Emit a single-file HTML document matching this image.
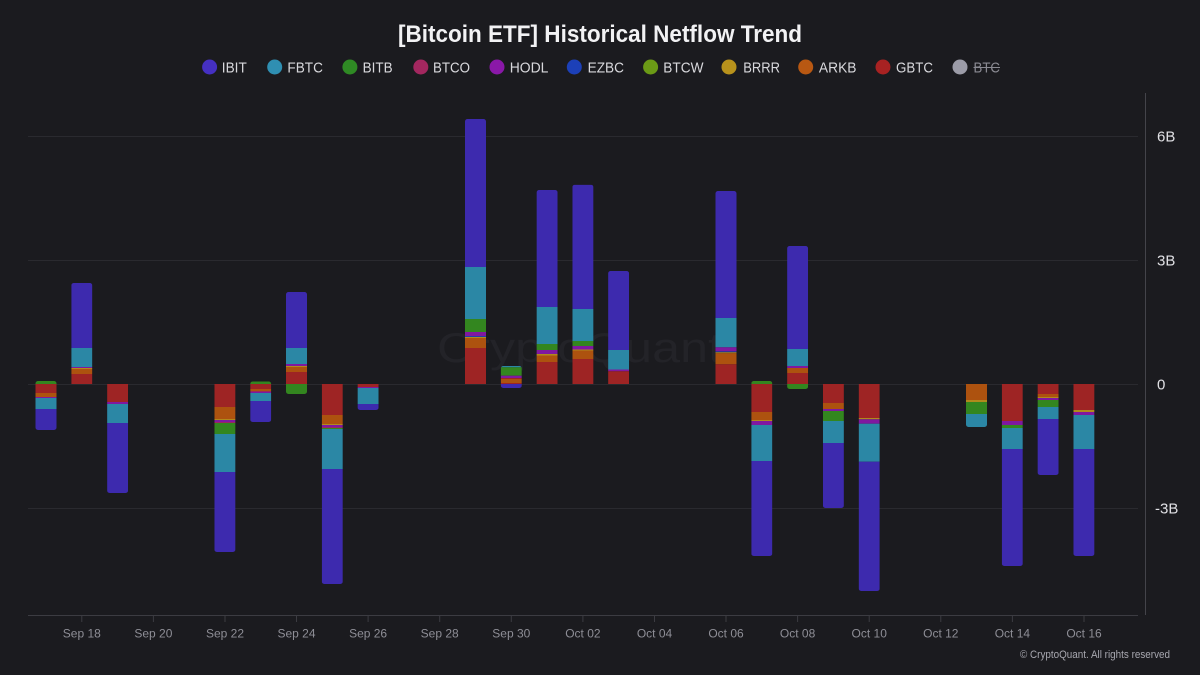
<!DOCTYPE html>
<html><head><meta charset="utf-8"><style>
html,body{margin:0;padding:0;background:#1b1b1f;}
svg{display:block;}
text{font-family:"Liberation Sans",sans-serif;}
</style></head><body>
<svg width="1200" height="675" viewBox="0 0 1200 675" xmlns="http://www.w3.org/2000/svg">
<rect width="1200" height="675" fill="#1b1b1f"/>
<!-- title -->
<text x="600" y="42" text-anchor="middle" font-size="24" font-weight="bold" fill="#f2f2f4" textLength="404" lengthAdjust="spacingAndGlyphs">[Bitcoin ETF] Historical Netflow Trend</text>
<!-- legend -->
<g font-size="15" fill="#d8d8dc">
<circle cx="209.6" cy="67" r="7.5" fill="#4530c2"/><text x="221.8" y="72.5" textLength="25" lengthAdjust="spacingAndGlyphs">IBIT</text>
<circle cx="274.7" cy="67" r="7.5" fill="#2f8fb2"/><text x="287.4" y="72.5" textLength="35.5" lengthAdjust="spacingAndGlyphs">FBTC</text>
<circle cx="349.9" cy="67" r="7.5" fill="#2f8a24"/><text x="362.6" y="72.5" textLength="30" lengthAdjust="spacingAndGlyphs">BITB</text>
<circle cx="420.8" cy="67" r="7.5" fill="#a3275f"/><text x="433" y="72.5" textLength="37" lengthAdjust="spacingAndGlyphs">BTCO</text>
<circle cx="497" cy="67" r="7.5" fill="#8a18a8"/><text x="509.7" y="72.5" textLength="38.7" lengthAdjust="spacingAndGlyphs">HODL</text>
<circle cx="574.3" cy="67" r="7.5" fill="#1c40b8"/><text x="587.6" y="72.5" textLength="36.4" lengthAdjust="spacingAndGlyphs">EZBC</text>
<circle cx="650.6" cy="67" r="7.5" fill="#6b9a16"/><text x="663.3" y="72.5" textLength="40.2" lengthAdjust="spacingAndGlyphs">BTCW</text>
<circle cx="729" cy="67" r="7.5" fill="#b8921c"/><text x="743.2" y="72.5" textLength="36.8" lengthAdjust="spacingAndGlyphs">BRRR</text>
<circle cx="805.7" cy="67" r="7.5" fill="#b85812"/><text x="818.9" y="72.5" textLength="37.6" lengthAdjust="spacingAndGlyphs">ARKB</text>
<circle cx="883" cy="67" r="7.5" fill="#a82222"/><text x="896" y="72.5" textLength="37" lengthAdjust="spacingAndGlyphs">GBTC</text>
<circle cx="960" cy="67" r="7.5" fill="#9c9ca8"/><text x="973.5" y="72.5" textLength="26.5" lengthAdjust="spacingAndGlyphs" fill="#8a8a92">BTC</text>
<line x1="973.5" y1="67.5" x2="1000" y2="67.5" stroke="#8a8a92" stroke-width="1"/>
</g>
<!-- watermark -->
<text x="437" y="362" font-size="42" fill="#232328" textLength="285" lengthAdjust="spacingAndGlyphs">CryptoQuant</text>
<!-- gridlines -->
<g stroke="#2a2a2f" stroke-width="1">
<line x1="28" y1="136.5" x2="1138" y2="136.5"/>
<line x1="28" y1="260.5" x2="1138" y2="260.5"/>
<line x1="28" y1="384.5" x2="1138" y2="384.5"/>
<line x1="28" y1="508.5" x2="1138" y2="508.5"/>
</g>
<!-- axes -->
<line x1="28" y1="615.5" x2="1138" y2="615.5" stroke="#3c3c42" stroke-width="1"/>
<line x1="1145.5" y1="93" x2="1145.5" y2="615" stroke="#44444a" stroke-width="1"/>
<g stroke="#3c3c42" stroke-width="1">
<line x1="81.8" y1="615" x2="81.8" y2="622"/><line x1="153.4" y1="615" x2="153.4" y2="622"/>
<line x1="225" y1="615" x2="225" y2="622"/><line x1="296.5" y1="615" x2="296.5" y2="622"/>
<line x1="368.1" y1="615" x2="368.1" y2="622"/><line x1="439.7" y1="615" x2="439.7" y2="622"/>
<line x1="511.3" y1="615" x2="511.3" y2="622"/><line x1="582.9" y1="615" x2="582.9" y2="622"/>
<line x1="654.5" y1="615" x2="654.5" y2="622"/><line x1="726" y1="615" x2="726" y2="622"/>
<line x1="797.6" y1="615" x2="797.6" y2="622"/><line x1="869.2" y1="615" x2="869.2" y2="622"/>
<line x1="940.8" y1="615" x2="940.8" y2="622"/><line x1="1012.4" y1="615" x2="1012.4" y2="622"/>
<line x1="1084" y1="615" x2="1084" y2="622"/>
</g>
<g font-size="12" fill="#8e8e96" text-anchor="middle">
<text x="81.8" y="637.5">Sep 18</text><text x="153.4" y="637.5">Sep 20</text>
<text x="225" y="637.5">Sep 22</text><text x="296.5" y="637.5">Sep 24</text>
<text x="368.1" y="637.5">Sep 26</text><text x="439.7" y="637.5">Sep 28</text>
<text x="511.3" y="637.5">Sep 30</text><text x="582.9" y="637.5">Oct 02</text>
<text x="654.5" y="637.5">Oct 04</text><text x="726" y="637.5">Oct 06</text>
<text x="797.6" y="637.5">Oct 08</text><text x="869.2" y="637.5">Oct 10</text>
<text x="940.8" y="637.5">Oct 12</text><text x="1012.4" y="637.5">Oct 14</text>
<text x="1084" y="637.5">Oct 16</text>
</g>
<g font-size="15" fill="#e0e0e4">
<text x="1157" y="141.5">6B</text>
<text x="1157" y="265.5">3B</text>
<text x="1157" y="389.5">0</text>
<text x="1155" y="513.5">-3B</text>
</g>
<text x="1170" y="658" font-size="11" fill="#a8a8b0" text-anchor="end" textLength="150" lengthAdjust="spacingAndGlyphs">© CryptoQuant. All rights reserved</text>

<defs>
<clipPath id="c0"><rect x="35.5" y="381" width="21" height="49" rx="2.5"/></clipPath>
<clipPath id="c1"><rect x="71.3" y="283" width="21" height="107" rx="2.5"/></clipPath>
<clipPath id="c2"><rect x="107.1" y="378" width="21" height="115" rx="2.5"/></clipPath>
<clipPath id="c3"><rect x="214.4" y="378" width="21" height="174" rx="2.5"/></clipPath>
<clipPath id="c4"><rect x="250.2" y="381.5" width="21" height="40.5" rx="2.5"/></clipPath>
<clipPath id="c5"><rect x="286" y="292" width="21" height="102" rx="2.5"/></clipPath>
<clipPath id="c6"><rect x="321.8" y="378" width="21" height="206" rx="2.5"/></clipPath>
<clipPath id="c7"><rect x="357.6" y="378" width="21" height="32" rx="2.5"/></clipPath>
<clipPath id="c8"><rect x="465" y="119" width="21" height="271" rx="2.5"/></clipPath>
<clipPath id="c9"><rect x="500.8" y="366" width="21" height="22" rx="2.5"/></clipPath>
<clipPath id="c10"><rect x="536.6" y="190" width="21" height="200" rx="2.5"/></clipPath>
<clipPath id="c11"><rect x="572.4" y="184.7" width="21" height="205.3" rx="2.5"/></clipPath>
<clipPath id="c12"><rect x="608.1" y="271" width="21" height="119" rx="2.5"/></clipPath>
<clipPath id="c13"><rect x="715.5" y="191" width="21" height="199" rx="2.5"/></clipPath>
<clipPath id="c14"><rect x="751.3" y="381" width="21" height="175" rx="2.5"/></clipPath>
<clipPath id="c15"><rect x="787.1" y="246" width="21" height="143" rx="2.5"/></clipPath>
<clipPath id="c16"><rect x="822.9" y="378" width="21" height="130" rx="2.5"/></clipPath>
<clipPath id="c17"><rect x="858.7" y="378" width="21" height="213" rx="2.5"/></clipPath>
<clipPath id="c18"><rect x="966" y="378" width="21" height="49" rx="2.5"/></clipPath>
<clipPath id="c19"><rect x="1001.8" y="378" width="21" height="188" rx="2.5"/></clipPath>
<clipPath id="c20"><rect x="1037.6" y="378" width="21" height="97" rx="2.5"/></clipPath>
<clipPath id="c21"><rect x="1073.4" y="378" width="21" height="178" rx="2.5"/></clipPath>
</defs>

<!-- Bars. Colors: B IBIT #3d2aae, T FBTC #2b87a5, G BITB #33861f, P BTCO #9a2760, H HODL #8018a0, E EZBC #1f3cae, W BTCW #6a9418, Y BRRR #b08a1c, O ARKB #ad520f, R GBTC #9e2424 -->
<g clip-path="url(#c0)">
<rect x="35.5" y="381" width="21" height="3" fill="#33861f"/>
<rect x="35.5" y="384" width="21" height="9" fill="#9e2424"/>
<rect x="35.5" y="393" width="21" height="4" fill="#ad520f"/>
<rect x="35.5" y="397" width="21" height="1" fill="#8018a0"/>
<rect x="35.5" y="398" width="21" height="11" fill="#2b87a5"/>
<rect x="35.5" y="409" width="21" height="21" fill="#3d2aae"/>
</g>
<g clip-path="url(#c1)">
<rect x="71.3" y="283" width="21" height="65" fill="#3d2aae"/>
<rect x="71.3" y="348" width="21" height="19" fill="#2b87a5"/>
<rect x="71.3" y="367" width="21" height="1" fill="#8018a0"/>
<rect x="71.3" y="368" width="21" height="1" fill="#b08a1c"/>
<rect x="71.3" y="369" width="21" height="5" fill="#ad520f"/>
<rect x="71.3" y="374" width="21" height="10" fill="#9e2424"/>
</g>
<g clip-path="url(#c2)">
<rect x="107.1" y="384" width="21" height="18" fill="#9e2424"/>
<rect x="107.1" y="402" width="21" height="2" fill="#8018a0"/>
<rect x="107.1" y="404" width="21" height="19" fill="#2b87a5"/>
<rect x="107.1" y="423" width="21" height="70" fill="#3d2aae"/>
</g>
<g clip-path="url(#c3)">
<rect x="214.4" y="384" width="21" height="23" fill="#9e2424"/>
<rect x="214.4" y="407" width="21" height="12" fill="#ad520f"/>
<rect x="214.4" y="419" width="21" height="1" fill="#b08a1c"/>
<rect x="214.4" y="420" width="21" height="2" fill="#8018a0"/>
<rect x="214.4" y="422" width="21" height="1" fill="#9a2760"/>
<rect x="214.4" y="423" width="21" height="11" fill="#33861f"/>
<rect x="214.4" y="434" width="21" height="38" fill="#2b87a5"/>
<rect x="214.4" y="472" width="21" height="80" fill="#3d2aae"/>
</g>
<g clip-path="url(#c4)">
<rect x="250.2" y="381.5" width="21" height="2.5" fill="#33861f"/>
<rect x="250.2" y="384" width="21" height="5" fill="#9e2424"/>
<rect x="250.2" y="389" width="21" height="2" fill="#ad520f"/>
<rect x="250.2" y="391" width="21" height="1" fill="#9a2760"/>
<rect x="250.2" y="392" width="21" height="1" fill="#8018a0"/>
<rect x="250.2" y="393" width="21" height="8" fill="#2b87a5"/>
<rect x="250.2" y="401" width="21" height="21" fill="#3d2aae"/>
</g>
<g clip-path="url(#c5)">
<rect x="286" y="292" width="21" height="56" fill="#3d2aae"/>
<rect x="286" y="348" width="21" height="16" fill="#2b87a5"/>
<rect x="286" y="364" width="21" height="2" fill="#8018a0"/>
<rect x="286" y="366" width="21" height="1" fill="#b08a1c"/>
<rect x="286" y="367" width="21" height="5" fill="#ad520f"/>
<rect x="286" y="372" width="21" height="12" fill="#9e2424"/>
<rect x="286" y="384" width="21" height="10" fill="#33861f"/>
</g>
<g clip-path="url(#c6)">
<rect x="321.8" y="384" width="21" height="31" fill="#9e2424"/>
<rect x="321.8" y="415" width="21" height="9" fill="#ad520f"/>
<rect x="321.8" y="424" width="21" height="1" fill="#b08a1c"/>
<rect x="321.8" y="425" width="21" height="2" fill="#8018a0"/>
<rect x="321.8" y="427" width="21" height="1" fill="#9a2760"/>
<rect x="321.8" y="428" width="21" height="1" fill="#33861f"/>
<rect x="321.8" y="429" width="21" height="40" fill="#2b87a5"/>
<rect x="321.8" y="469" width="21" height="115" fill="#3d2aae"/>
</g>
<g clip-path="url(#c7)">
<rect x="357.6" y="384" width="21" height="3" fill="#9e2424"/>
<rect x="357.6" y="387" width="21" height="1" fill="#8018a0"/>
<rect x="357.6" y="388" width="21" height="16" fill="#2b87a5"/>
<rect x="357.6" y="404" width="21" height="6" fill="#3d2aae"/>
</g>
<g clip-path="url(#c8)">
<rect x="465" y="119" width="21" height="148" fill="#3d2aae"/>
<rect x="465" y="267" width="21" height="52" fill="#2b87a5"/>
<rect x="465" y="319" width="21" height="13" fill="#33861f"/>
<rect x="465" y="332" width="21" height="4" fill="#8018a0"/>
<rect x="465" y="336" width="21" height="1" fill="#1f3cae"/>
<rect x="465" y="337" width="21" height="1" fill="#b08a1c"/>
<rect x="465" y="338" width="21" height="10" fill="#ad520f"/>
<rect x="465" y="348" width="21" height="36" fill="#9e2424"/>
</g>
<g clip-path="url(#c9)">
<rect x="500.8" y="366" width="21" height="1.3" fill="#2b87a5"/>
<rect x="500.8" y="367.3" width="21" height="8.4" fill="#33861f"/>
<rect x="500.8" y="375.7" width="21" height="2.3" fill="#8018a0"/>
<rect x="500.8" y="378" width="21" height="1" fill="#9e2424"/>
<rect x="500.8" y="379" width="21" height="4" fill="#ad520f"/>
<rect x="500.8" y="383" width="21" height="1" fill="#9e2424"/>
<rect x="500.8" y="384" width="21" height="4" fill="#3d2aae"/>
</g>
<g clip-path="url(#c10)">
<rect x="536.6" y="190" width="21" height="117" fill="#3d2aae"/>
<rect x="536.6" y="307" width="21" height="37" fill="#2b87a5"/>
<rect x="536.6" y="344" width="21" height="6" fill="#33861f"/>
<rect x="536.6" y="350" width="21" height="4" fill="#8018a0"/>
<rect x="536.6" y="354" width="21" height="1.5" fill="#b08a1c"/>
<rect x="536.6" y="355.5" width="21" height="6.5" fill="#ad520f"/>
<rect x="536.6" y="362" width="21" height="22" fill="#9e2424"/>
</g>
<g clip-path="url(#c11)">
<rect x="572.4" y="184.7" width="21" height="124.3" fill="#3d2aae"/>
<rect x="572.4" y="309" width="21" height="32" fill="#2b87a5"/>
<rect x="572.4" y="341" width="21" height="5" fill="#33861f"/>
<rect x="572.4" y="346" width="21" height="3.5" fill="#8018a0"/>
<rect x="572.4" y="349.5" width="21" height="1" fill="#b08a1c"/>
<rect x="572.4" y="350.5" width="21" height="8.5" fill="#ad520f"/>
<rect x="572.4" y="359" width="21" height="25" fill="#9e2424"/>
</g>
<g clip-path="url(#c12)">
<rect x="608.1" y="271" width="21" height="79" fill="#3d2aae"/>
<rect x="608.1" y="350" width="21" height="19.5" fill="#2b87a5"/>
<rect x="608.1" y="369.5" width="21" height="1.8" fill="#8018a0"/>
<rect x="608.1" y="371.3" width="21" height="12.7" fill="#9e2424"/>
</g>
<g clip-path="url(#c13)">
<rect x="715.5" y="191" width="21" height="127" fill="#3d2aae"/>
<rect x="715.5" y="318" width="21" height="29.3" fill="#2b87a5"/>
<rect x="715.5" y="347.3" width="21" height="4" fill="#8018a0"/>
<rect x="715.5" y="351.3" width="21" height="1" fill="#1f3cae"/>
<rect x="715.5" y="352.3" width="21" height="1" fill="#b08a1c"/>
<rect x="715.5" y="353.3" width="21" height="11" fill="#ad520f"/>
<rect x="715.5" y="364.3" width="21" height="19.7" fill="#9e2424"/>
</g>
<g clip-path="url(#c14)">
<rect x="751.3" y="381" width="21" height="3" fill="#33861f"/>
<rect x="751.3" y="384" width="21" height="28" fill="#9e2424"/>
<rect x="751.3" y="412" width="21" height="8" fill="#ad520f"/>
<rect x="751.3" y="420" width="21" height="1" fill="#b08a1c"/>
<rect x="751.3" y="421" width="21" height="4" fill="#8018a0"/>
<rect x="751.3" y="425" width="21" height="36" fill="#2b87a5"/>
<rect x="751.3" y="461" width="21" height="95" fill="#3d2aae"/>
</g>
<g clip-path="url(#c15)">
<rect x="787.1" y="246" width="21" height="103" fill="#3d2aae"/>
<rect x="787.1" y="349" width="21" height="17" fill="#2b87a5"/>
<rect x="787.1" y="366" width="21" height="2" fill="#8018a0"/>
<rect x="787.1" y="368" width="21" height="5" fill="#ad520f"/>
<rect x="787.1" y="373" width="21" height="11" fill="#9e2424"/>
<rect x="787.1" y="384" width="21" height="5" fill="#33861f"/>
</g>
<g clip-path="url(#c16)">
<rect x="822.9" y="384" width="21" height="19" fill="#9e2424"/>
<rect x="822.9" y="403" width="21" height="6" fill="#ad520f"/>
<rect x="822.9" y="409" width="21" height="2" fill="#8018a0"/>
<rect x="822.9" y="411" width="21" height="10" fill="#33861f"/>
<rect x="822.9" y="421" width="21" height="22" fill="#2b87a5"/>
<rect x="822.9" y="443" width="21" height="65" fill="#3d2aae"/>
</g>
<g clip-path="url(#c17)">
<rect x="858.7" y="384" width="21" height="34" fill="#9e2424"/>
<rect x="858.7" y="418" width="21" height="1.3" fill="#b08a1c"/>
<rect x="858.7" y="419.3" width="21" height="4.4" fill="#8018a0"/>
<rect x="858.7" y="423.7" width="21" height="38" fill="#2b87a5"/>
<rect x="858.7" y="461.7" width="21" height="129.3" fill="#3d2aae"/>
</g>
<g clip-path="url(#c18)">
<rect x="966" y="384" width="21" height="16" fill="#ad520f"/>
<rect x="966" y="400" width="21" height="2" fill="#b08a1c"/>
<rect x="966" y="402" width="21" height="12" fill="#33861f"/>
<rect x="966" y="414" width="21" height="13" fill="#2b87a5"/>
</g>
<g clip-path="url(#c19)">
<rect x="1001.8" y="384" width="21" height="37" fill="#9e2424"/>
<rect x="1001.8" y="421" width="21" height="4" fill="#8018a0"/>
<rect x="1001.8" y="425" width="21" height="3" fill="#33861f"/>
<rect x="1001.8" y="428" width="21" height="21" fill="#2b87a5"/>
<rect x="1001.8" y="449" width="21" height="117" fill="#3d2aae"/>
</g>
<g clip-path="url(#c20)">
<rect x="1037.6" y="384" width="21" height="10" fill="#9e2424"/>
<rect x="1037.6" y="394" width="21" height="3" fill="#ad520f"/>
<rect x="1037.6" y="397" width="21" height="1" fill="#b08a1c"/>
<rect x="1037.6" y="398" width="21" height="2" fill="#8018a0"/>
<rect x="1037.6" y="400" width="21" height="7" fill="#33861f"/>
<rect x="1037.6" y="407" width="21" height="12" fill="#2b87a5"/>
<rect x="1037.6" y="419" width="21" height="56" fill="#3d2aae"/>
</g>
<g clip-path="url(#c21)">
<rect x="1073.4" y="384" width="21" height="26" fill="#9e2424"/>
<rect x="1073.4" y="410" width="21" height="2" fill="#b08a1c"/>
<rect x="1073.4" y="412" width="21" height="3" fill="#8018a0"/>
<rect x="1073.4" y="415" width="21" height="34" fill="#2b87a5"/>
<rect x="1073.4" y="449" width="21" height="107" fill="#3d2aae"/>
</g>
</svg>
</body></html>
